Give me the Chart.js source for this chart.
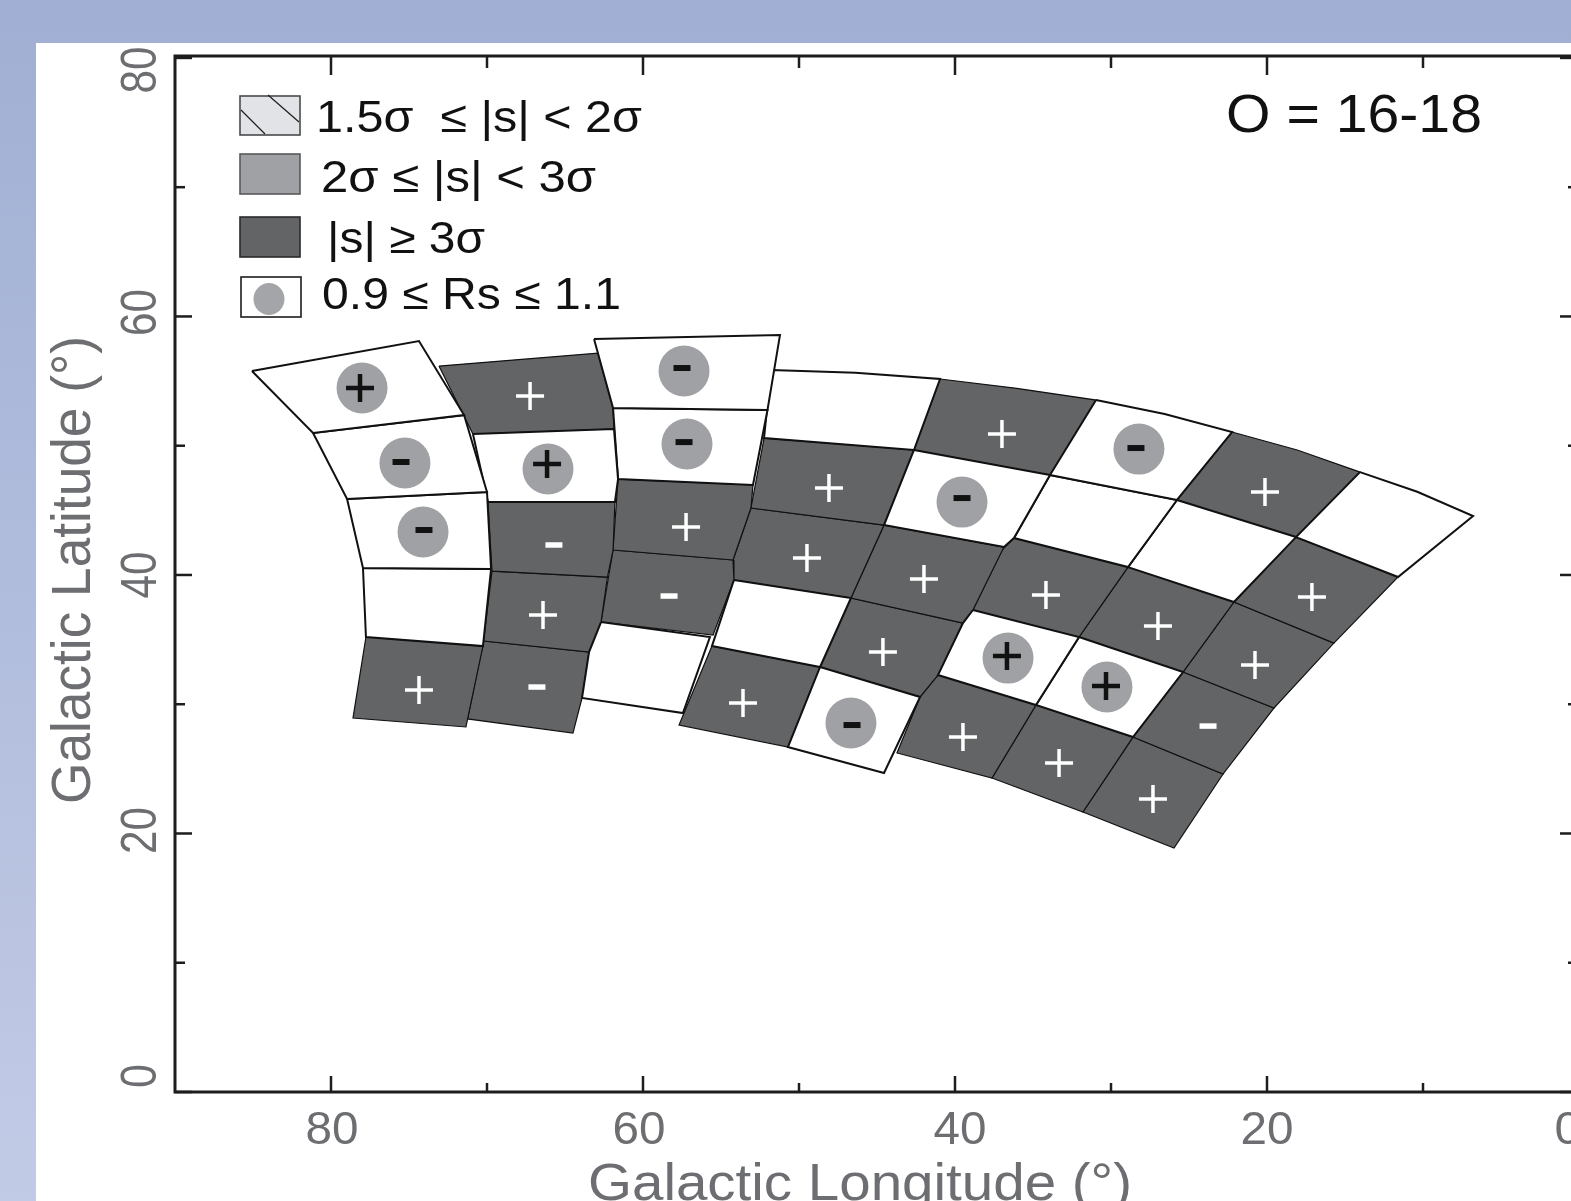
<!DOCTYPE html>
<html>
<head>
<meta charset="utf-8">
<title>Galactic map O = 16-18</title>
<script src="https://cdn.jsdelivr.net/npm/chart.js@4"></script>
<style>
  html, body { margin: 0; height: 100%; overflow: hidden; background: linear-gradient(#a0afd3, #c2cbe6); }
  #page { position: absolute; left: 0; top: 0; width: 1571px; height: 1201px; overflow: hidden; }
  #sheet { position: absolute; left: 36px; top: 43px; right: 0; bottom: 0; background: #fff; }
  #mapChart { position: absolute; left: 0; top: 0; filter: blur(0.6px); }
</style>
</head>
<body>
<div id="page">
  <div id="sheet"></div>
  <canvas id="mapChart" width="1700" height="1300"></canvas>
</div>
<script>
// Axis ticks
const lonMajor = [80, 60, 40, 20, 0];
const lonMinor = [70, 50, 30, 10];
const latMajor = [80, 60, 40, 20, 0];
const latMinor = [70, 50, 30, 10];

// Grid cells, column by column, outline points in degrees starting at the top-left corner
const cellLon = [
  [85.07, 74.36, 71.47, 81.15], [81.15, 71.47, 70.00, 78.97], [78.97, 70.00, 69.74, 77.95], [77.95, 69.74, 70.26, 77.76], [77.76, 70.26, 71.35, 78.59],
  [73.08, 62.89, 61.92, 61.86, 70.90], [70.90, 61.86, 61.60, 61.80, 69.94], [69.94, 61.80, 61.92, 62.28, 69.68], [69.68, 62.28, 62.69, 63.46, 70.22], [70.22, 63.46, 63.91, 64.49, 71.25],
  [63.14, 51.22, 52.02, 61.92], [61.92, 52.02, 52.95, 61.60], [61.60, 52.95, 53.08, 54.23, 61.92], [61.92, 54.23, 54.17, 55.51, 62.69], [62.69, 55.71, 57.44, 63.91, 63.46],
  [51.80, 46.38, 40.96, 42.63, 52.24], [52.24, 42.63, 44.55, 53.08], [53.08, 44.55, 46.67, 54.17, 54.23], [54.17, 46.67, 48.65, 55.58], [55.58, 48.65, 50.71, 57.69],
  [40.96, 36.04, 30.96, 33.91, 42.63], [42.63, 33.91, 36.22, 36.86, 44.55], [44.55, 36.86, 38.85, 39.49, 46.67], [46.67, 39.49, 41.09, 42.24, 48.65], [48.65, 42.24, 44.55, 50.71],
  [30.96, 26.56, 22.24, 25.77, 33.91], [33.91, 25.77, 28.91, 36.22], [36.22, 28.91, 32.05, 38.85, 36.99], [38.85, 32.05, 34.81, 41.09, 39.49], [41.09, 34.81, 37.63, 43.72, 42.24],
  [22.24, 18.06, 14.04, 18.14, 25.77], [25.77, 18.14, 22.12, 28.91], [28.91, 22.12, 25.38, 32.05], [32.05, 25.38, 28.59, 34.81], [34.81, 28.59, 31.80, 37.63],
  [14.04, 10.37, 6.79, 11.60, 18.14], [18.14, 11.60, 15.71, 22.12], [22.12, 15.71, 19.55, 25.38], [25.38, 19.55, 22.82, 28.59], [28.59, 22.82, 25.96, 31.80]
];
const cellLat = [
  [55.78, 58.10, 52.37, 50.98], [50.98, 52.37, 46.42, 45.88], [45.88, 46.42, 40.46, 40.54], [40.54, 40.46, 34.50, 35.20], [35.20, 34.50, 28.24, 28.93],
  [56.16, 57.17, 52.91, 51.29, 50.90], [50.90, 51.29, 47.42, 45.64, 45.64], [45.64, 45.64, 41.93, 39.84, 40.30], [40.30, 39.84, 36.36, 34.04, 34.89], [34.89, 34.04, 30.48, 27.77, 28.86],
  [58.25, 58.56, 52.76, 52.91], [52.91, 52.76, 46.96, 47.42], [47.42, 46.96, 45.18, 41.16, 41.93], [41.93, 41.16, 39.61, 35.35, 36.36], [36.36, 35.20, 29.32, 30.48, 34.04],
  [55.85, 55.64, 55.16, 49.67, 50.59], [50.59, 49.67, 43.86, 45.18], [45.18, 43.86, 38.22, 39.61, 41.16], [39.61, 38.22, 32.88, 34.50], [34.50, 32.88, 26.69, 28.39],
  [55.16, 54.44, 53.53, 47.73, 49.67], [49.67, 47.73, 42.86, 42.16, 43.86], [43.86, 42.16, 37.29, 36.28, 38.22], [38.22, 36.28, 32.26, 30.56, 32.88], [32.88, 30.56, 24.68, 26.69],
  [53.53, 52.45, 51.06, 45.80, 47.73], [47.73, 45.80, 40.61, 42.86], [42.86, 40.61, 35.20, 37.29, 41.93], [37.29, 35.20, 29.94, 32.26, 36.28], [32.26, 29.94, 24.29, 26.23, 30.56],
  [51.06, 49.67, 47.96, 42.93, 45.80], [45.80, 42.93, 37.91, 40.61], [40.61, 37.91, 32.49, 35.20], [35.20, 32.49, 27.46, 29.94], [29.94, 27.46, 21.66, 24.29],
  [47.96, 46.44, 44.56, 39.84, 42.93], [42.93, 39.84, 34.73, 37.91], [37.91, 34.73, 29.71, 32.49], [32.49, 29.71, 24.60, 27.46], [27.46, 24.60, 18.88, 21.66]
];
// 1 = |s| >= 3 sigma, 0 = below
const cellDark = [
  0, 0, 0, 0, 1,
  1, 0, 1, 1, 1,
  0, 0, 1, 1, 0,
  0, 1, 1, 0, 1,
  1, 0, 1, 1, 0,
  0, 0, 1, 0, 1,
  1, 0, 1, 0, 1,
  0, 1, 1, 1, 1
];

// Cells with 0.9 <= Rs <= 1.1
const rsLon = [78.01, 75.26, 74.10, 66.09, 57.37, 57.18, 39.55, 46.67, 28.21, 36.60, 30.26];
const rsLat = [54.46, 48.66, 43.32, 48.20, 55.78, 50.13, 45.64, 28.55, 49.74, 33.57, 31.33];

// Sign of s
const plusLon = [74.36, 67.24, 66.41, 57.24, 48.08, 49.49, 53.59, 36.99, 41.99, 44.62, 34.17, 39.49, 20.13, 26.99, 33.33, 17.12, 20.77, 27.31];
const plusLat = [31.10, 53.84, 36.90, 43.71, 46.73, 41.31, 30.09, 50.90, 39.69, 34.04, 38.45, 27.46, 46.42, 36.05, 25.45, 38.29, 33.03, 22.67];
const minusLon = [65.71, 66.80, 58.33, 23.78];
const minusLat = [42.32, 31.33, 38.37, 28.31];
const rsPlusLon = [78.14, 66.15, 36.67, 30.32];
const rsPlusLat = [54.46, 48.58, 33.73, 31.41];
const rsMinusLon = [75.51, 74.04, 57.50, 57.37, 39.55, 46.60, 28.40];
const rsMinusLat = [48.74, 43.48, 56.01, 50.28, 45.95, 28.39, 49.82];

const legendLabels = ['1.5σ  ≤ |s| < 2σ', '2σ ≤ |s| < 3σ', '|s| ≥ 3σ', '0.9 ≤ Rs ≤ 1.1'];
const orderLabel = 'O = 16-18';
const xTitle = 'Galactic Longitude (°)';
const yTitle = 'Galactic Latitude (°)';

const INK = '#1d1d1f';
const LABEL_GREY = '#6d6e71';
const DARK = '#636466';
const MID = '#9fa1a4';

const zip = (xs, ys) => xs.map((x, i) => ({ x, y: ys[i] }));

function cellDataset(i) {
  const dark = cellDark[i] === 1;
  const pts = zip(cellLon[i], cellLat[i]);
  return {
    data: [...pts, pts[0]],
    showLine: true,
    fill: 'shape',
    backgroundColor: dark ? DARK : '#ffffff',
    borderColor: '#111111',
    borderWidth: dark ? 1.2 : 2,
    borderJoinStyle: 'miter',
    tension: 0,
    pointRadius: 0,
    order: dark ? 4 : 3,
    clip: false
  };
}

function signDataset(xs, ys, style, radius, color, width) {
  return {
    data: zip(xs, ys),
    showLine: false,
    pointStyle: style,
    pointRadius: radius,
    pointBorderColor: color,
    pointBackgroundColor: color,
    pointBorderWidth: width,
    order: 1
  };
}

// text stretched to a measured width, as in the scanned figure
function putText(ctx, str, x, y, size, color, width, rotated) {
  ctx.save();
  ctx.font = size + 'px "Liberation Sans", Arial, sans-serif';
  ctx.fillStyle = color;
  ctx.textBaseline = 'alphabetic';
  ctx.textAlign = 'left';
  ctx.translate(x, y);
  if (rotated) ctx.rotate(-Math.PI / 2);
  ctx.scale(width / ctx.measureText(str).width, 1);
  ctx.fillText(str, 0, 0);
  ctx.restore();
}

// ── Frame, inward ticks and tick labels ──────────────────────────────────────
const frameAxes = {
  id: 'frameAxes',
  afterDraw(chart) {
    const { ctx, chartArea: a, scales: { x, y } } = chart;
    ctx.save();
    ctx.strokeStyle = INK;
    ctx.lineWidth = 3;
    ctx.strokeRect(a.left, a.top, a.right - a.left, a.bottom - a.top);

    const tick = (x0, y0, x1, y1) => {
      ctx.beginPath();
      ctx.moveTo(x0, y0);
      ctx.lineTo(x1, y1);
      ctx.stroke();
    };
    ctx.lineWidth = 2.5;
    lonMajor.forEach(v => { const p = x.getPixelForValue(v); tick(p, a.top, p, a.top + 19); tick(p, a.bottom, p, a.bottom - 16); });
    lonMinor.forEach(v => { const p = x.getPixelForValue(v); tick(p, a.top, p, a.top + 12); tick(p, a.bottom, p, a.bottom - 9); });
    latMajor.forEach(v => { const p = y.getPixelForValue(v); tick(a.left, p, a.left + 17, p); tick(a.right, p, a.right - 19, p); });
    latMinor.forEach(v => { const p = y.getPixelForValue(v); tick(a.left, p, a.left + 10, p); tick(a.right, p, a.right - 11, p); });
    ctx.restore();

    // labels sit slightly off their ticks in the figure
    const lonNudge = { 80: 1, 60: -4, 40: 5, 20: 0, 0: -11 };
    const latNudge = { 80: 12, 60: -4, 40: 0, 20: -3, 0: -16 };
    lonMajor.forEach(v => {
      const w = v === 0 ? 27 : 53;
      putText(ctx, String(v), x.getPixelForValue(v) + lonNudge[v] - w / 2, 1144, 46, LABEL_GREY, w);
    });
    latMajor.forEach(v => {
      const w = v === 0 ? 24 : 47;
      putText(ctx, String(v), 156, y.getPixelForValue(v) + latNudge[v] + w / 2, 50, LABEL_GREY, w, true);
    });

    putText(ctx, xTitle, 588, 1200, 52, LABEL_GREY, 544);
    putText(ctx, yTitle, 90, 804, 56, LABEL_GREY, 468, true);
  }
};

// ── Key in the top left, order label in the top right ────────────────────────
const mapKey = {
  id: 'mapKey',
  afterDraw(chart) {
    const ctx = chart.ctx;
    ctx.save();
    ctx.lineWidth = 1.6;

    ctx.fillStyle = '#e1e3e6';
    ctx.strokeStyle = '#4a4a4c';
    ctx.fillRect(240, 96, 60, 39);
    ctx.strokeRect(240, 96, 60, 39);
    ctx.strokeStyle = '#222';
    ctx.lineWidth = 1.3;
    ctx.beginPath();
    ctx.moveTo(268, 95);
    ctx.lineTo(299, 122);
    ctx.moveTo(241, 110);
    ctx.lineTo(265, 134);
    ctx.stroke();

    ctx.lineWidth = 1.6;
    ctx.fillStyle = MID;
    ctx.strokeStyle = '#58595b';
    ctx.fillRect(240, 154, 60, 40);
    ctx.strokeRect(240, 154, 60, 40);

    ctx.fillStyle = DARK;
    ctx.strokeStyle = '#2a2a2c';
    ctx.fillRect(240, 217, 60, 40);
    ctx.strokeRect(240, 217, 60, 40);

    ctx.strokeStyle = INK;
    ctx.strokeRect(241, 277, 60, 40);
    ctx.fillStyle = '#a3a5a8';
    ctx.beginPath();
    ctx.ellipse(269, 299, 15.5, 16, 0, 0, Math.PI * 2);
    ctx.fill();
    ctx.restore();

    putText(ctx, legendLabels[0], 316, 132, 44, '#111', 326);
    putText(ctx, legendLabels[1], 321, 192, 44, '#111', 275);
    putText(ctx, legendLabels[2], 327, 253, 44, '#111', 158);
    putText(ctx, legendLabels[3], 322, 309, 44, '#111', 299);
    putText(ctx, orderLabel, 1226, 132, 53, '#111', 256);
  }
};

const datasets = [
  signDataset(plusLon, plusLat, 'cross', 14, '#ffffff', 3.5),
  signDataset(minusLon, minusLat, 'line', 8.5, '#ffffff', 5.5),
  signDataset(rsPlusLon, rsPlusLat, 'cross', 14, '#111111', 4.5),
  signDataset(rsMinusLon, rsMinusLat, 'line', 8.5, '#111111', 6),
  {
    data: zip(rsLon, rsLat),
    showLine: false,
    pointStyle: 'circle',
    pointRadius: 25.5,
    pointBackgroundColor: MID,
    pointBorderWidth: 0,
    order: 2
  },
  ...cellLon.map((_, i) => cellDataset(i))
];

new Chart(document.getElementById('mapChart'), {
  type: 'scatter',
  data: { datasets },
  plugins: [frameAxes, mapKey],
  options: {
    responsive: false,
    animation: false,
    devicePixelRatio: 1,
    layout: { padding: { left: 175, top: 56, right: 121, bottom: 208 } },
    plugins: { legend: { display: false }, tooltip: { enabled: false } },
    scales: {
      x: {
        type: 'linear', min: 0, max: 90, reverse: true,
        grid: { display: false, drawTicks: false }, border: { display: false }, ticks: { display: false, stepSize: 10 }
      },
      y: {
        type: 'linear', min: 0, max: 80.15,
        grid: { display: false, drawTicks: false }, border: { display: false }, ticks: { display: false, stepSize: 10 }
      }
    }
  }
});
</script>
</body>
</html>
